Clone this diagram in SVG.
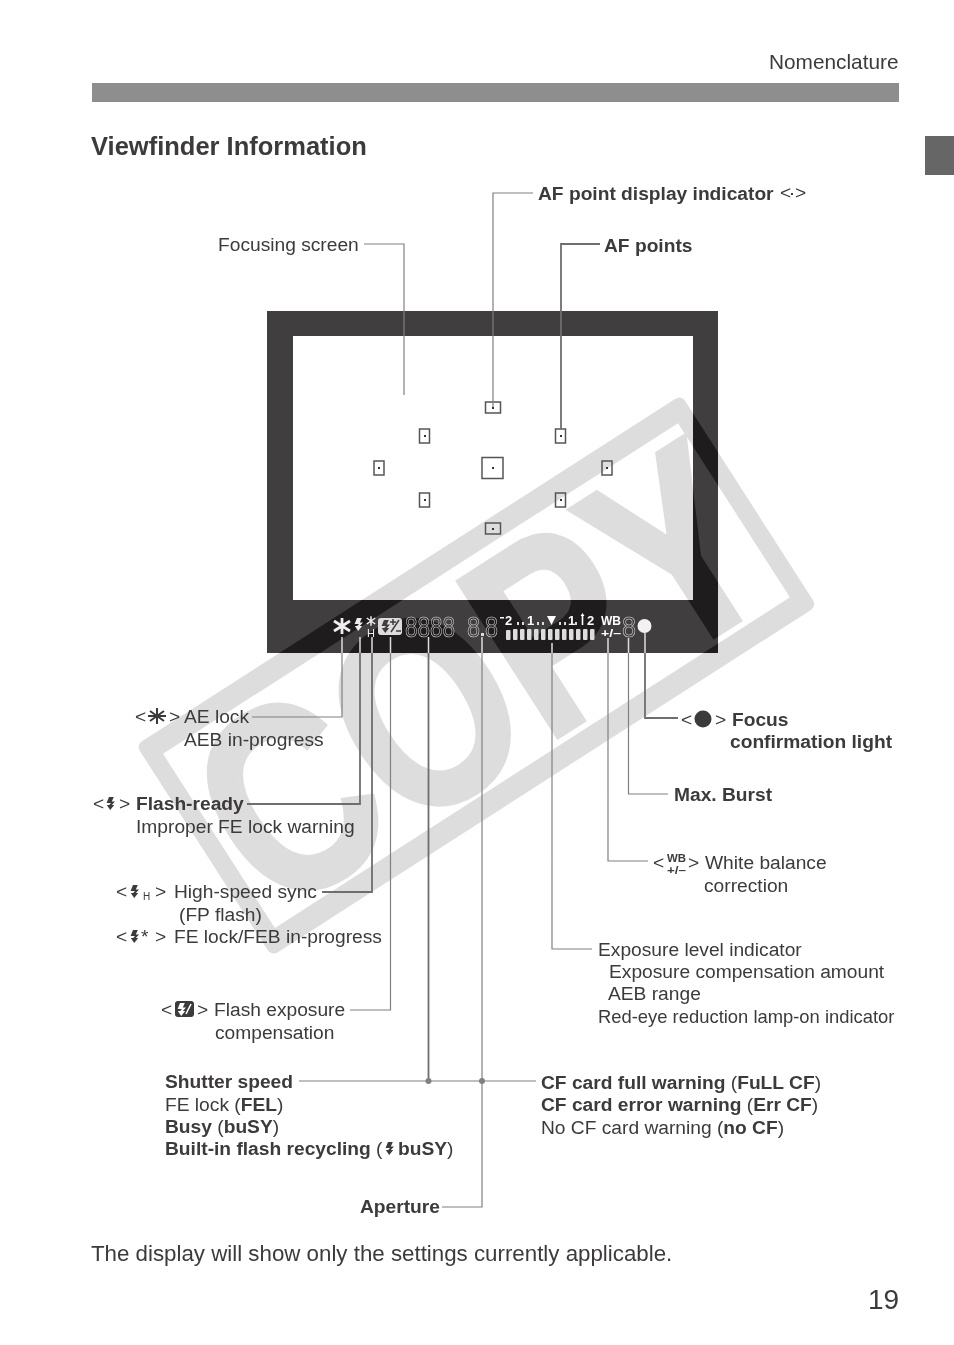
<svg xmlns="http://www.w3.org/2000/svg" width="954" height="1345" viewBox="0 0 954 1345">
<style>
text{font-family:"Liberation Sans",Arial,sans-serif;fill:#3c3a3a;font-size:19.2px}
.b{font-weight:bold}
.w{font-weight:bold;fill:#fff}
.af{fill:none;stroke:#555;stroke-width:1.5}
.dot{fill:#333}
.c1{fill:none;stroke:#808080;stroke-width:1.2}
.c2{fill:none;stroke:#6e6e6e;stroke-width:1.8}
.lt{stroke:#ddd;stroke-width:1.5}
.seg{fill:none;stroke:#ddd;stroke-width:.6;font-size:29px;font-family:"Liberation Sans",sans-serif}
.st{stroke:#3c3a3a;stroke-width:2;fill:none}
</style>
<defs>
<path id="bolt" d="M3 0H7.800L5.800 4.500H9L5.800 8H8.200L4.200 13 .8 8H3.200L5 6H.6Z"/>
</defs>
<rect width="954" height="1345" fill="#fff"/>
<g id="page">
<rect x="92" y="83" width="807" height="19" fill="#8e8e8e"/>
<rect x="925" y="136" width="29" height="39" fill="#666"/>
</g>
<g id="viewfinder">
<path fill-rule="evenodd" fill="#403e3e" d="M267 311H718V653H267ZM293 336V600H693V336Z"/>
</g>
<g id="watermark" style="mix-blend-mode:difference" transform="translate(136 745) rotate(-32.7)">
<path fill="#222" fill-rule="evenodd" d="M8 0H640Q648 0 648 8V243Q648 251 640 251H8Q0 251 0 243V8Q0 0 8 0ZM18 22V229H630V22Z"/>
<text x="22" y="221" style="font-size:268px;font-weight:bold;fill:#222;stroke:#222;stroke-width:5" textLength="610" lengthAdjust="spacingAndGlyphs">COPY</text>
</g>
<g id="af-points">
<rect class="af" x="482" y="457.500" width="21" height="21"/><rect class="dot" x="492" y="467" width="2" height="2"/>
<rect class="af" x="485.500" y="402" width="15" height="11"/><rect class="dot" x="492" y="407" width="2" height="2"/>
<rect class="af" x="485.500" y="523" width="15" height="11"/><rect class="dot" x="492" y="528" width="2" height="2"/>
<rect class="af" x="419.500" y="429" width="10" height="14"/><rect class="dot" x="424" y="435" width="2" height="2"/>
<rect class="af" x="555.500" y="429" width="10" height="14"/><rect class="dot" x="560" y="435" width="2" height="2"/>
<rect class="af" x="419.500" y="493" width="10" height="14"/><rect class="dot" x="424" y="499" width="2" height="2"/>
<rect class="af" x="555.500" y="493" width="10" height="14"/><rect class="dot" x="560" y="499" width="2" height="2"/>
<rect class="af" x="374" y="461" width="10" height="14"/><rect class="dot" x="378" y="467" width="2" height="2"/>
<rect class="af" x="602" y="461" width="10" height="14"/><rect class="dot" x="606" y="467" width="2" height="2"/>
</g>
<g id="display">
<g transform="translate(342 626)" stroke="#eee" stroke-width="2.800" fill="none"><path d="M0-8V8M-8-5 8 5M-8 5 8-5"/></g>
<use href="#bolt" x="354" y="618" fill="#eee"/>
<g transform="translate(371 621) scale(.6)" stroke="#eee" stroke-width="2.500" fill="none"><path d="M0-8V8M-7-5 7 5M-7 5 7-5"/></g>
<text x="367" y="637" style="font-size:11px;fill:#eee">H</text>
<rect x="378" y="618" width="24" height="17" rx="3" fill="#ddd"/>
<use href="#bolt" x="381" y="620" fill="#403e3e"/>
<path d="M391 632 399 620M390 622H396M393 619V625M396 631H401" stroke="#403e3e" stroke-width="1.500" fill="none"/>
<text class="seg" x="405" y="637" textLength="50" lengthAdjust="spacingAndGlyphs">8888</text>
<text class="seg" x="467" y="637" textLength="13" lengthAdjust="spacingAndGlyphs">8</text>
<rect x="481" y="633" width="3" height="3" fill="#ddd"/>
<text class="seg" x="485" y="637" textLength="13" lengthAdjust="spacingAndGlyphs">8</text>
<text class="w" x="505" y="625" style="font-size:13px">2</text>
<rect x="500" y="617" width="4" height="1.500" fill="#fff"/>
<text class="w" x="527" y="625" style="font-size:13px">1</text>
<text class="w" x="568" y="625" style="font-size:13px">1</text>
<text class="w" x="587" y="625" style="font-size:13px">2</text>
<path d="M547 616H556L551.500 625Z" fill="#fff"/>
<path d="M582.500 613 584.500 616H583.300V625H581.700V616H580.500Z" fill="#fff"/>
<path fill="#ddd" d="M517 622h2v3h-2zM522 622h2v3h-2zM537 622h2v3h-2zM542 622h2v3h-2zM559 622h2v3h-2zM564 622h2v3h-2zM575 622h2v3h-2z"/>
<g fill="#ddd">
<rect x="506" y="630" width="4.500" height="10" rx="1"/><rect x="513" y="629" width="4.500" height="11" rx="1"/><rect x="520" y="629" width="4.500" height="11" rx="1"/><rect x="527" y="629" width="4.500" height="11" rx="1"/><rect x="534" y="629" width="4.500" height="11" rx="1"/><rect x="541" y="629" width="4.500" height="11" rx="1"/><rect x="548" y="629" width="4.500" height="11" rx="1"/><rect x="555" y="629" width="4.500" height="11" rx="1"/><rect x="562" y="629" width="4.500" height="11" rx="1"/><rect x="569" y="629" width="4.500" height="11" rx="1"/><rect x="576" y="629" width="4.500" height="11" rx="1"/><rect x="583" y="629" width="4.500" height="11" rx="1"/><rect x="590" y="629" width="4.500" height="11" rx="1"/>
</g>
<text class="w" x="601" y="625" textLength="20" lengthAdjust="spacingAndGlyphs" style="font-size:12px">WB</text>
<text class="w" x="601" y="637" textLength="20" lengthAdjust="spacingAndGlyphs" style="font-size:11px">+/–</text>
<text class="seg" x="622" y="637" textLength="14" lengthAdjust="spacingAndGlyphs">8</text>
<circle cx="644.500" cy="626" r="7" fill="#f2f2f2"/>
</g>
<g id="connectors">
<path class="c1" d="M404 395V244H364M493 407V193H533"/>
<path class="c2" d="M561 429V244H600"/>
<path class="c1" d="M342 653V717H252M390.500 653V1010H350M482 653V1207H442M552 653V949H592M608 653V861H648M628.500 653V794H668M299 1081H536"/>
<path class="c2" d="M360 653V804H247M372 653V892H322M428.500 653V1081M645 653V718H678"/>
<path class="lt" d="M342 637V653M360 637V653M372 637V653M390.500 637V653M428.500 637V653M482 637V653M552 643V653M608 638V653M628.500 638V653M645 633V653"/>
<circle cx="428.500" cy="1081" r="3" fill="#808080"/><circle cx="482" cy="1081" r="3" fill="#808080"/>
</g>
<g id="labels">
<text x="769" y="69" style="font-size:20.800px">Nomenclature</text>
<text class="b" x="91" y="155" style="font-size:25.500px">Viewfinder Information</text>
<text x="218" y="251">Focusing screen</text>
<text class="b" x="538" y="200">AF point display indicator</text><text x="780" y="199">&lt;</text><rect x="791" y="193" width="2" height="2" fill="#3c3a3a"/><text x="795" y="199">&gt;</text>
<text class="b" x="604" y="252">AF points</text>
<text x="135" y="723">&lt;</text><g transform="translate(157 716)" class="st"><path d="M0-8V8M-7-5 7 5M-7 5 7-5M-9 0H9"/></g><text x="169" y="723">&gt;</text><text x="184" y="723">AE lock</text>
<text x="184" y="746">AEB in-progress</text>
<text x="93" y="810">&lt;</text><use href="#bolt" x="106" y="797" fill="#3c3a3a"/><text x="119" y="810">&gt;</text><text class="b" x="136" y="810">Flash-ready</text>
<text x="136" y="833">Improper FE lock warning</text>
<text x="116" y="898">&lt;</text><use href="#bolt" x="130" y="885" fill="#3c3a3a"/><text x="143" y="900" style="font-size:10px">H</text><text x="155" y="898">&gt;</text><text x="174" y="898">High-speed sync</text>
<text x="179" y="921">(FP flash)</text>
<text x="116" y="943">&lt;</text><use href="#bolt" x="130" y="930" fill="#3c3a3a"/><text x="141" y="943">*</text><text x="155" y="943">&gt;</text><text x="174" y="943">FE lock/FEB in-progress</text>
<text x="161" y="1016">&lt;</text><rect x="175" y="1001" width="19" height="16" rx="3" fill="#3c3a3a"/><use href="#bolt" x="177" y="1003" fill="#fff"/><path d="M186 1014 191 1004" stroke="#fff" stroke-width="1.500"/><text x="197" y="1016">&gt;</text><text x="214" y="1016">Flash exposure</text>
<text x="215" y="1039">compensation</text>
<text class="b" x="165" y="1088">Shutter speed</text>
<text x="165" y="1111">FE lock (<tspan font-weight="bold">FEL</tspan>)</text>
<text x="165" y="1133"><tspan font-weight="bold">Busy</tspan> (<tspan font-weight="bold">buSY</tspan>)</text>
<text x="165" y="1155"><tspan font-weight="bold">Built-in flash recycling</tspan> (</text><use href="#bolt" x="385" y="1142" fill="#3c3a3a"/><text x="398" y="1155"><tspan font-weight="bold">buSY</tspan>)</text>
<text class="b" x="360" y="1213">Aperture</text>
<text x="681" y="726">&lt;</text><circle cx="703" cy="719" r="8.500" fill="#3c3a3a"/><text x="715" y="726">&gt;</text><text class="b" x="732" y="726">Focus</text>
<text class="b" x="730" y="748">confirmation light</text>
<text class="b" x="674" y="801">Max. Burst</text>
<text x="653" y="869">&lt;</text><text class="b" x="667" y="862" textLength="19" lengthAdjust="spacingAndGlyphs" style="font-size:10px">WB</text><text class="b" x="667" y="874" textLength="19" lengthAdjust="spacingAndGlyphs" style="font-size:10px">+/–</text><text x="688" y="869">&gt;</text><text x="705" y="869">White balance</text>
<text x="704" y="892">correction</text>
<text x="598" y="956">Exposure level indicator</text>
<text x="609" y="978">Exposure compensation amount</text>
<text x="608" y="1000">AEB range</text>
<text x="598" y="1023" style="font-size:18.400px">Red-eye reduction lamp-on indicator</text>
<text x="541" y="1089"><tspan font-weight="bold">CF card full warning</tspan> (<tspan font-weight="bold">FuLL CF</tspan>)</text>
<text x="541" y="1111"><tspan font-weight="bold">CF card error warning</tspan> (<tspan font-weight="bold">Err CF</tspan>)</text>
<text x="541" y="1134">No CF card warning (<tspan font-weight="bold">no CF</tspan>)</text>
<text x="91" y="1261" style="font-size:22.300px">The display will show only the settings currently applicable.</text>
<text x="868" y="1309" style="font-size:28px">19</text>
</g>
</svg>
